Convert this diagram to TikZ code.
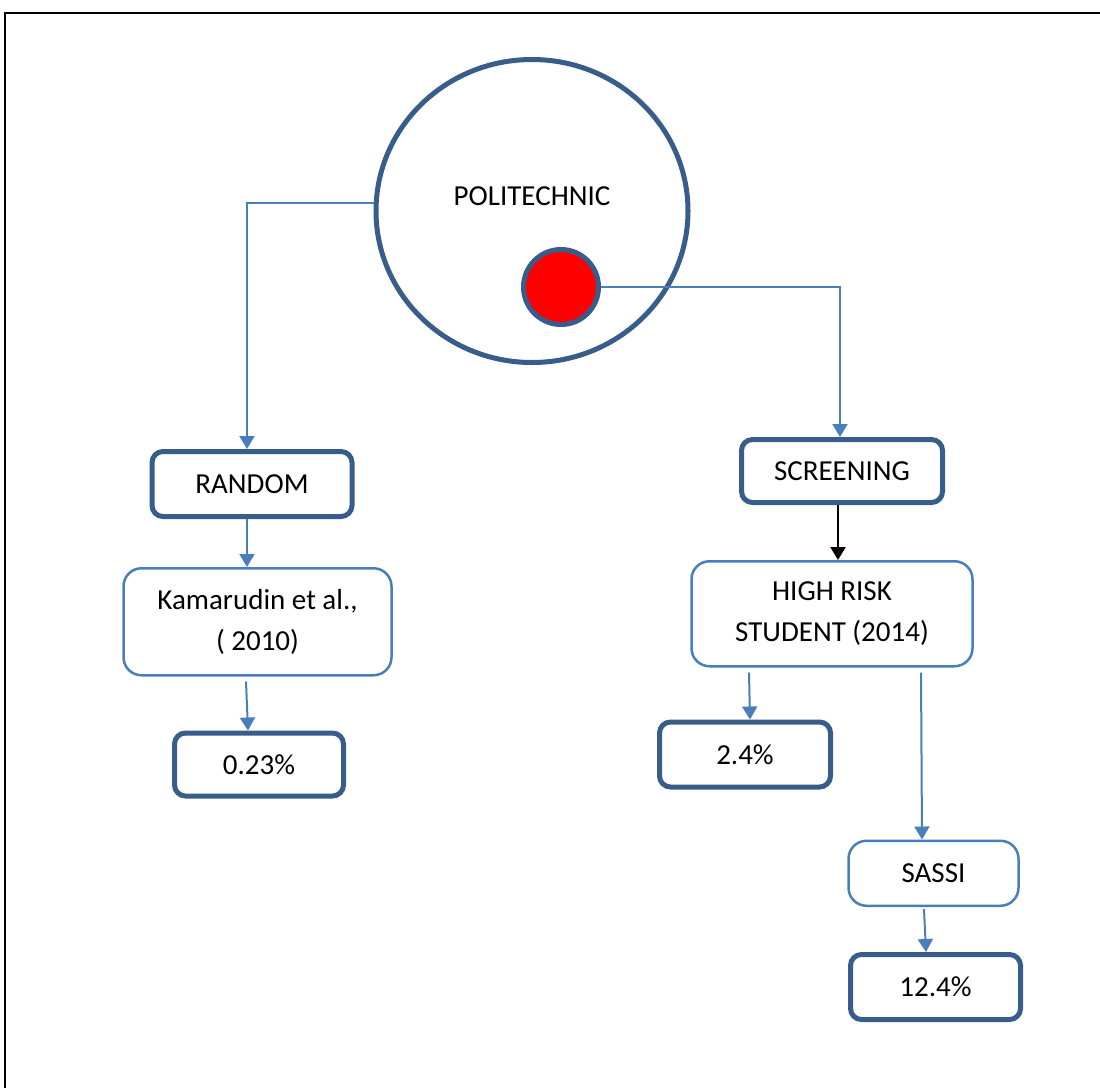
\documentclass[tikz,border=0pt]{standalone}
\usepackage{fontspec}
\setmainfont{Carlito}
\usetikzlibrary{arrows.meta, positioning, calc, shapes.geometric}
\definecolor{darkline}{HTML}{385D8A}
\definecolor{lightline}{HTML}{4A7EBB}
\tikzset{
  box/.style={rectangle, draw, align=center, inner sep=0pt,
              font=\fontsize{29}{41}\selectfont},
  thickbox/.style={box, draw=darkline, line width=5pt, rounded corners=11pt},
  thinbox/.style={box, draw=lightline, line width=2.5pt, rounded corners=18pt},
  conn/.style={-{Triangle[width=15pt,length=13pt]}, color=lightline, line width=2pt},
  lbl/.style={font=\fontsize{29}{41}\selectfont, inner sep=0pt},
}

\begin{document}
\begin{tikzpicture}[x=1pt, y=-1pt,
  bigring/.style={ellipse, draw=darkline, line width=5pt,
                  minimum width=312pt, minimum height=303pt, inner sep=0pt},
  dotc/.style={circle, draw=darkline, fill=red, line width=5pt,
               minimum size=75pt, inner sep=0pt},
  frame/.style={line width=2pt, black},
]

  \useasboundingbox (0,0) rectangle (1100,1088);
  \draw[frame] (1100,13) -- (5,13) -- (5,1088);

  \node[bigring] (polit) at (532,211) {};
  \node[lbl] (politxt) at (532,196) {POLITECHNIC};
  \node[dotc] (dot) at (561,287) {};

  % left branch
  \node[thickbox, minimum width=200pt, minimum height=65pt] (random) at (252,484) {RANDOM};
  \node[thinbox, minimum width=268pt, minimum height=107pt, below=48pt of random, xshift=5.5pt] (kamar)
    {Kamarudin et al.,\\( 2010)};
  \node[thickbox, minimum width=169pt, minimum height=63pt, below=54pt of kamar, xshift=1.5pt] (pct023) {0.23\%};

  % right branch
  \node[thickbox, minimum width=201pt, minimum height=63pt] (screen) at (842,471) {SCREENING};
  \node[thinbox, minimum width=281pt, minimum height=105pt, below=55pt of screen, xshift=-10pt] (highrisk)
    {HIGH RISK\\STUDENT (2014)};
  \node[thickbox, minimum width=171pt, minimum height=65pt, below=52pt of highrisk, xshift=-87pt] (pct24) {2.4\%};
  \node[thinbox, minimum width=170pt, minimum height=65pt, below=172pt of highrisk, xshift=101.5pt] (sassi) {SASSI};
  \node[thickbox, minimum width=170pt, minimum height=65pt, below=45pt of sassi, xshift=2pt] (pct124) {12.4\%};

  \draw[conn] (polit.177) -| ([xshift=-5pt]random.north);
  \draw[conn] (dot.east) -| ([xshift=-2pt]screen.north);

  \draw[conn] ([xshift=-5pt]random.south) -- ([xshift=-5pt]random.south |- kamar.north);
  \draw[conn] ($(kamar.south)+(-11.5,5)$) -- ($(pct023.north)+(-11,0)$);

  \draw[conn, black] ([xshift=-4pt]screen.south) -- ([xshift=-4pt]screen.south |- highrisk.north);
  \draw[conn] ($(highrisk.south)+(-83,5)$) -- ($(pct24.north)+(5,0)$);
  \draw[conn] ($(highrisk.south)+(89,5)$) -- ($(sassi.north)+(-11.5,0)$);
  \draw[conn] ($(sassi.south)+(-9.5,2)$) -- ($(pct124.north)+(-9.5,0)$);

\end{tikzpicture}
\end{document}
